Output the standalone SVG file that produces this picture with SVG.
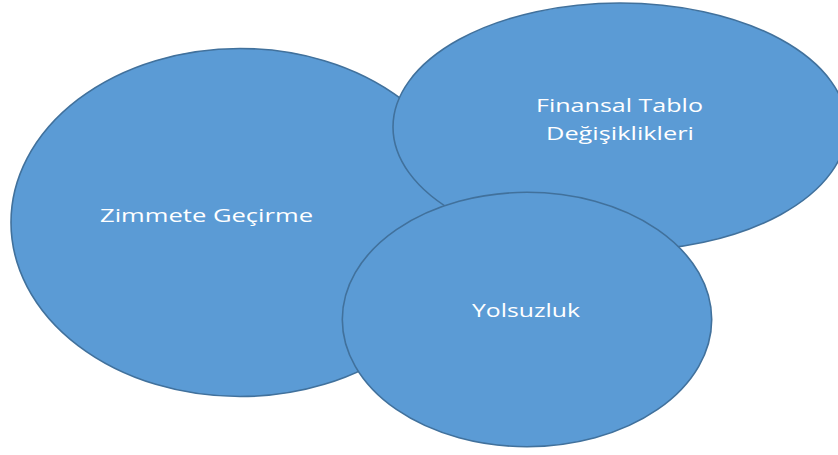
<svg xmlns="http://www.w3.org/2000/svg" width="838" height="455" viewBox="0 0 838 455">
<style>
.node{fill:#5B9BD5;stroke:#41719C;stroke-width:1.6}
.lbl{font-family:"Open Sans","Noto Sans","Liberation Sans",sans-serif;font-size:18px;fill:#FFFFFF;text-anchor:start}
</style>
<rect width="838" height="455" fill="#FFFFFF"/>
<g id="zimmete">
<ellipse class="node" cx="240" cy="222.5" rx="229" ry="174"/>
<text class="lbl" x="100" y="222" textLength="213" lengthAdjust="spacingAndGlyphs">Zimmete Geçirme</text>
</g>
<g id="finansal">
<ellipse class="node" cx="620" cy="127" rx="227" ry="124"/>
<text class="lbl" x="536" y="112" textLength="167" lengthAdjust="spacingAndGlyphs">Finansal Tablo</text>
<text class="lbl" x="546" y="140" textLength="148" lengthAdjust="spacingAndGlyphs">Değişiklikleri</text>
</g>
<g id="yolsuzluk">
<ellipse class="node" cx="527" cy="319.5" rx="184.7" ry="127.2"/>
<text class="lbl" x="472" y="317" textLength="108" lengthAdjust="spacingAndGlyphs">Yolsuzluk</text>
</g>
<g id="connectors"></g>
</svg>
